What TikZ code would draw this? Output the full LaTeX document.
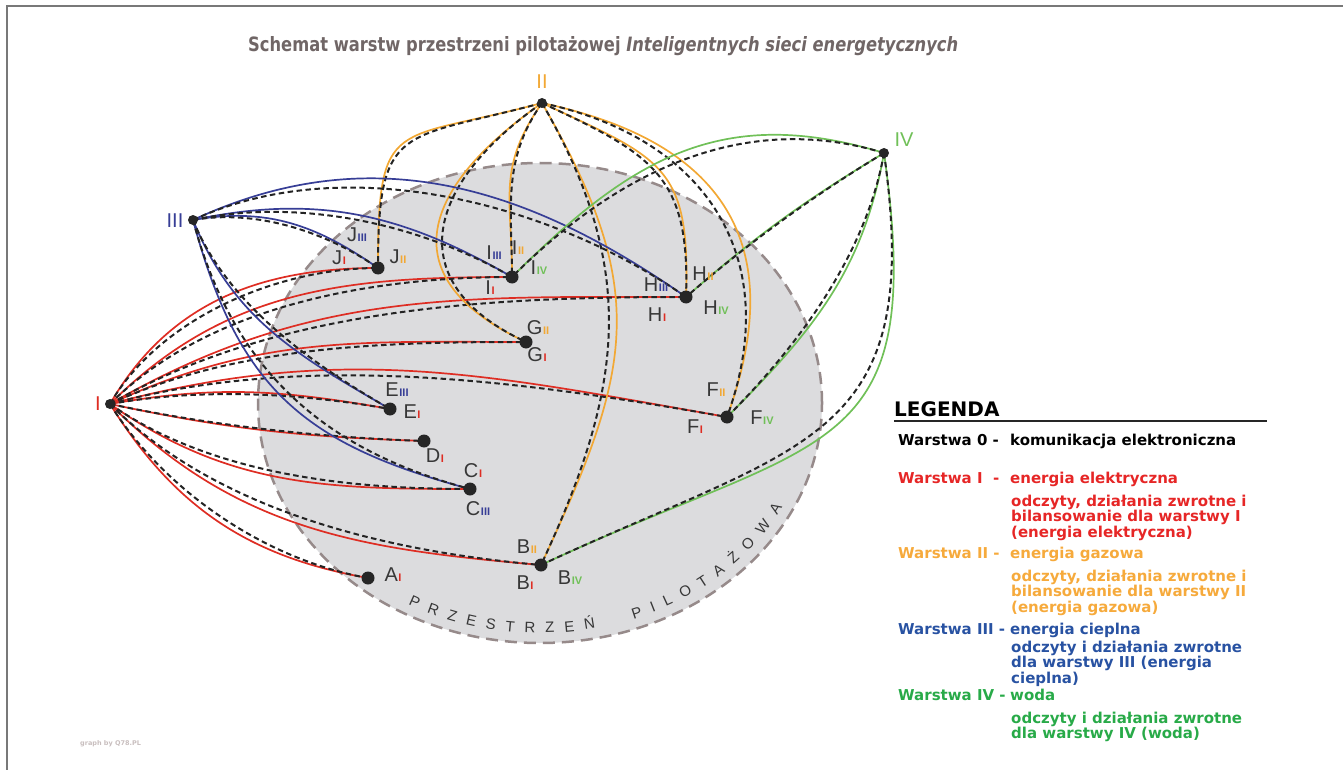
\documentclass[tikz,border=0pt]{standalone}
\usepackage{fontspec}
\setmainfont{Liberation Sans}
\newfontfamily\djv{DejaVu Sans}
\usepackage{graphicx}
\usetikzlibrary{backgrounds,decorations.text}

\definecolor{cR}{RGB}{222,45,35}
\definecolor{cO}{RGB}{242,168,52}
\definecolor{cB}{RGB}{55,62,150}
\definecolor{cG}{RGB}{112,192,88}
\definecolor{gR}{RGB}{230,38,38}
\definecolor{gO}{RGB}{246,170,60}
\definecolor{gB}{RGB}{40,82,162}
\definecolor{gG}{RGB}{40,170,72}
\definecolor{dotc}{RGB}{38,38,38}
\definecolor{dshc}{RGB}{35,35,35}
\definecolor{labc}{RGB}{55,55,55}
\definecolor{titc}{RGB}{112,102,102}
\definecolor{ellf}{RGB}{220,220,222}
\definecolor{ellb}{RGB}{150,138,138}
\definecolor{framec}{RGB}{120,120,120}
\definecolor{credc}{RGB}{200,190,190}

\newcommand{\mylink}[6]{%
  \draw[#1] (#2.center) to[out=#4,in=#5,looseness=#6] (#3.center);
  \pgfmathsetmacro\dlo{#6-0.15/#6}%
  \draw[dashln] (#2.center) to[out=#4,in=#5,looseness=\dlo] (#3.center);}
\newcommand{\nl}[3]{#1\kern0.6pt{\fontsize{11}{11}\selectfont\bfseries\color{#2}#3}}

\tikzset{
  hubn/.style={circle, fill=dotc, minimum size=10pt, inner sep=0pt},
  dotn/.style={circle, fill=dotc, minimum size=13pt, inner sep=0pt},
  redln/.style={draw=cR, line width=1.7pt},
  orln/.style={draw=cO, line width=1.7pt},
  blln/.style={draw=cB, line width=1.7pt},
  grln/.style={draw=cG, line width=1.7pt},
  dashln/.style={draw=dshc, line width=2pt, dash pattern=on 5.5pt off 3.5pt},
  labn/.style={text=labc, inner sep=0pt, font=\fontsize{20}{20}\selectfont},
  hubl/.style={inner sep=0pt, font=\fontsize{20}{20}\selectfont},
  legn/.style={anchor=base west, inner sep=0pt, font=\djv\bfseries\fontsize{15}{15}\selectfont},
}

\begin{document}
\begin{tikzpicture}[x=1pt,y=-1pt]
\useasboundingbox (0,0) rectangle (1343,770);

% frame
\draw[framec, line width=2pt] (7,770) -- (7,6) -- (1343,6);

% title
\node[anchor=base west, inner sep=0pt, text=titc] (title) at (248,52)
  {\resizebox{710pt}{15pt}{\djv\bfseries Schemat warstw przestrzeni pilotażowej \itshape Inteligentnych sieci energetycznych}};

\coordinate (ec) at (540,403);

% hubs and endpoints
\node[hubn] (hI) at (110,404) {};
\node[hubn] (hII) at (542,103) {};
\node[hubn] (hIII) at (193,220) {};
\node[hubn] (hIV) at (884,153) {};
\node[dotn] (A) at (368,578) {};
\node[dotn] (B) at (541,565) {};
\node[dotn] (C) at (470,489) {};
\node[dotn] (D) at (424,441) {};
\node[dotn] (E) at (390,409) {};
\node[dotn] (F) at (727,417) {};
\node[dotn] (G) at (526,342) {};
\node[dotn] (H) at (686,297) {};
\node[dotn] (nI) at (512,277) {};
\node[dotn] (J) at (378,268) {};

\begin{pgfonlayer}{background}
  \fill[ellf] (ec) ellipse [x radius=282pt, y radius=240pt];
  \draw[ellb, line width=2.5pt, dash pattern=on 12pt off 7pt] (ec) ellipse [x radius=282pt, y radius=240pt];
  % layer I (red)
  \mylink{redln}{hI}{J}{60}{180}{1}
  \mylink{redln}{hI}{nI}{45}{180}{1}
  \mylink{redln}{hI}{H}{30}{180}{1}
  \mylink{redln}{hI}{G}{25}{180}{1}
  \mylink{redln}{hI}{F}{15}{170}{1}
  \mylink{redln}{hI}{E}{10}{170}{1}
  \mylink{redln}{hI}{D}{-12}{178}{1}
  \mylink{redln}{hI}{C}{-35}{180}{1}
  \mylink{redln}{hI}{B}{-45}{175}{1}
  \mylink{redln}{hI}{A}{-58}{170}{1}
  % layer II (orange)
  \mylink{orln}{hII}{J}{195}{90}{1.7}
  \mylink{orln}{hII}{G}{215}{155}{1.6}
  \mylink{orln}{hII}{nI}{235}{90}{1.15}
  \mylink{orln}{hII}{B}{-60}{65}{1.2}
  \mylink{orln}{hII}{H}{-25}{88}{1.4}
  \mylink{orln}{hII}{F}{-12}{70}{1.3}
  % layer III (blue)
  \mylink{blln}{hIII}{J}{10}{145}{1}
  \mylink{blln}{hIII}{nI}{12}{150}{1}
  \mylink{blln}{hIII}{H}{25}{145}{1}
  \mylink{blln}{hIII}{E}{-68}{150}{1}
  \mylink{blln}{hIII}{C}{-75}{165}{1.15}
  % layer IV (green)
  \mylink{grln}{hIV}{nI}{163}{45}{1.1}
  \mylink{grln}{hIV}{H}{211}{41}{1}
  \mylink{grln}{hIV}{F}{260}{45}{1}
  \mylink{grln}{hIV}{B}{-82}{25}{1.5}
\end{pgfonlayer}

% text along the pilot space border
\path[decorate, decoration={text along path,
  text={|\fontsize{15}{15}\selectfont\color{labc}|PRZESTRZEŃ{ }{ }PILOTAŻOWA},
  text align=fit to path}]
  (ec) ++(241:272pt and 230pt) arc[start angle=241, end angle=333, x radius=272pt, y radius=230pt];

% hub labels
\node[hubl, text=cR] (tI) at (98,404) {I};
\node[hubl, text=cO] (tII) at (542,82) {II};
\node[hubl, text=cB] (tIII) at (175,221) {III};
\node[hubl, text=cG] (tIV) at (904,140) {IV};

% endpoint labels
\node[labn] (lA) at (393,575) {\nl{A}{cR}{I}};
\node[labn] (lBII) at (527,547) {\nl{B}{cO}{II}};
\node[labn] (lBI) at (525,583) {\nl{B}{cR}{I}};
\node[labn] (lBIV) at (570,578) {\nl{B}{cG}{IV}};
\node[labn] (lCI) at (473,471) {\nl{C}{cR}{I}};
\node[labn] (lCIII) at (478,509) {\nl{C}{cB}{III}};
\node[labn] (lDI) at (435,456) {\nl{D}{cR}{I}};
\node[labn] (lEIII) at (397,390) {\nl{E}{cB}{III}};
\node[labn] (lEI) at (412,412) {\nl{E}{cR}{I}};
\node[labn] (lFII) at (716,390) {\nl{F}{cO}{II}};
\node[labn] (lFI) at (695,427) {\nl{F}{cR}{I}};
\node[labn] (lFIV) at (762,418) {\nl{F}{cG}{IV}};
\node[labn] (lGII) at (538,328) {\nl{G}{cO}{II}};
\node[labn] (lGI) at (537,355) {\nl{G}{cR}{I}};
\node[labn] (lHII) at (703,274) {\nl{H}{cO}{II}};
\node[labn] (lHIII) at (656,285) {\nl{H}{cB}{III}};
\node[labn] (lHI) at (657,315) {\nl{H}{cR}{I}};
\node[labn] (lHIV) at (716,308) {\nl{H}{cG}{IV}};
\node[labn] (lIIII) at (494,253) {\nl{I}{cB}{III}};
\node[labn] (lIII) at (518,248) {\nl{I}{cO}{II}};
\node[labn] (lIIV) at (539,268) {\nl{I}{cG}{IV}};
\node[labn] (lII) at (490,288) {\nl{I}{cR}{I}};
\node[labn] (lJIII) at (357,235) {\nl{J}{cB}{III}};
\node[labn] (lJI) at (339,258) {\nl{J}{cR}{I}};
\node[labn] (lJII) at (398,257) {\nl{J}{cO}{II}};

% legend
\node[anchor=base west, inner sep=0pt, font=\djv\bfseries\fontsize{20}{20}\selectfont] (legt) at (894,416) {LEGENDA};
\draw[black!85, line width=2.5pt] (894,421) -- (1267,421);
\node[legn] (l0a) at (898,445) {Warstwa 0 -};
\node[legn] (l0b) at (1010,445) {komunikacja elektroniczna};
\node[legn, text=gR] (l1a) at (898,483) {Warstwa I\ \ -};
\node[legn, text=gR] (l1b) at (1010,483) {energia elektryczna};
\node[legn, text=gR] (l1c) at (1011,506) {odczyty, działania zwrotne i};
\node[legn, text=gR] (l1d) at (1011,521.5) {bilansowanie dla warstwy I};
\node[legn, text=gR] (l1e) at (1011,537) {(energia elektryczna)};
\node[legn, text=gO] (l2a) at (898,558) {Warstwa II -};
\node[legn, text=gO] (l2b) at (1010,558) {energia gazowa};
\node[legn, text=gO] (l2c) at (1011,581) {odczyty, działania zwrotne i};
\node[legn, text=gO] (l2d) at (1011,596.5) {bilansowanie dla warstwy II};
\node[legn, text=gO] (l2e) at (1011,612) {(energia gazowa)};
\node[legn, text=gB] (l3a) at (898,634) {Warstwa III -};
\node[legn, text=gB] (l3b) at (1010,634) {energia cieplna};
\node[legn, text=gB] (l3c) at (1011,652) {odczyty i działania zwrotne};
\node[legn, text=gB] (l3d) at (1011,667.5) {dla warstwy III (energia};
\node[legn, text=gB] (l3e) at (1011,683) {cieplna)};
\node[legn, text=gG] (l4a) at (898,700) {Warstwa IV -};
\node[legn, text=gG] (l4b) at (1010,700) {woda};
\node[legn, text=gG] (l4c) at (1011,723) {odczyty i działania zwrotne};
\node[legn, text=gG] (l4d) at (1011,738.5) {dla warstwy IV (woda)};

% credit
\node[anchor=base west, inner sep=0pt, text=credc, font=\djv\bfseries\fontsize{6.5}{6.5}\selectfont] (cred) at (80,745) {graph by Q78.PL};
\end{tikzpicture}
\end{document}
